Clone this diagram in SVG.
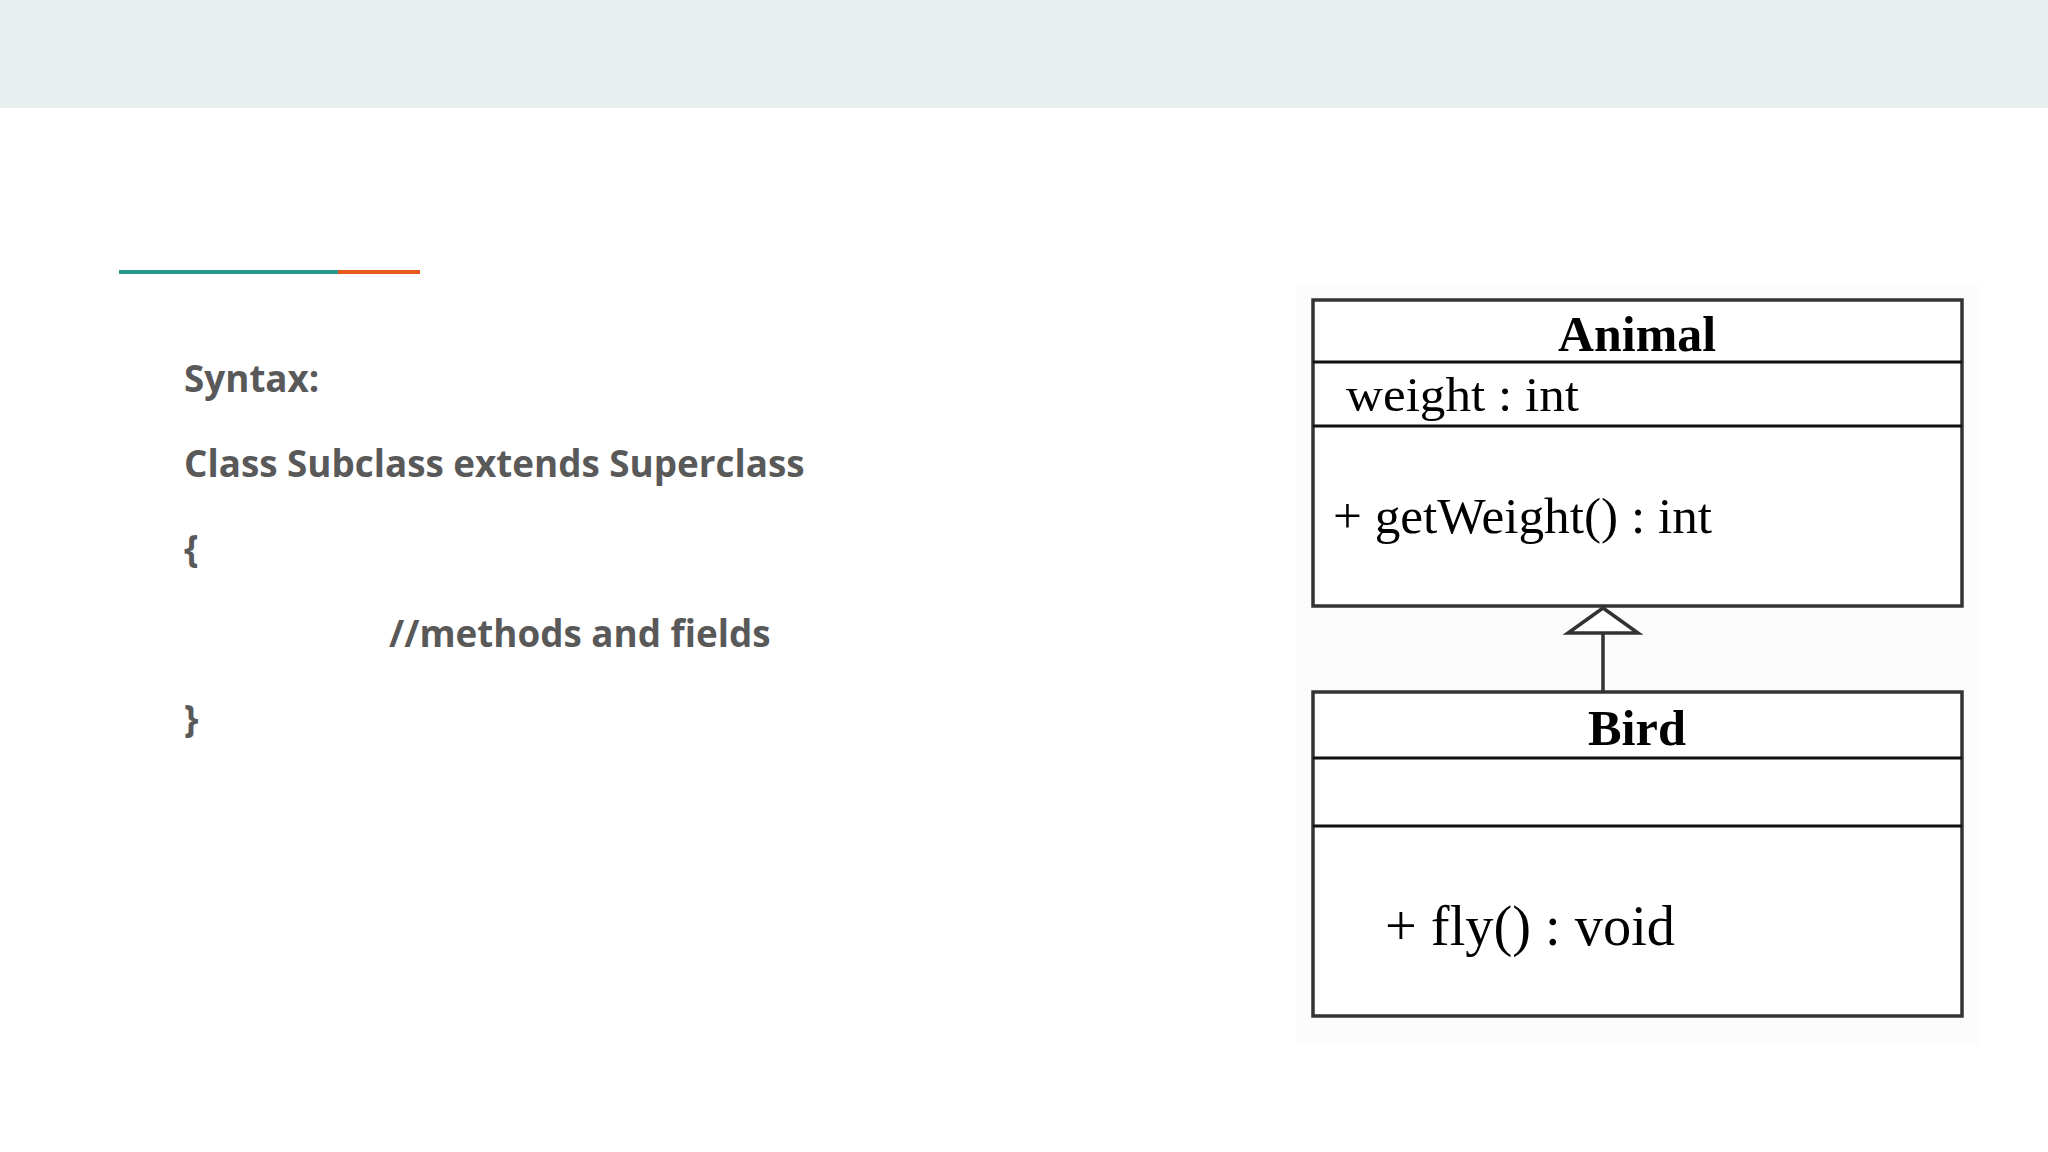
<svg xmlns="http://www.w3.org/2000/svg" width="2048" height="1152" viewBox="0 0 2048 1152">
<style>
.code{font-family:"Open Sans",sans-serif;font-weight:bold;font-size:36.8px;fill:#595959}
.uml{font-family:"Liberation Serif",serif;fill:#000}
.title{font-weight:bold}
.box{fill:#fff;stroke:#333;stroke-width:3.5}
.div{stroke:#111;stroke-width:3}
.conn{stroke:#333;stroke-width:3.5;fill:#fff}
</style>
<rect x="0" y="0" width="2048" height="1152" fill="#fff"/>
<rect x="0" y="0" width="2048" height="108" fill="#e9eeee"/>
<line x1="119" y1="272" x2="338" y2="272" stroke="#26998c" stroke-width="4"/>
<line x1="338" y1="272" x2="420" y2="272" stroke="#e8591a" stroke-width="4"/>
<g id="code">
<text class="code" x="184" y="392">Syntax:</text>
<text class="code" x="184" y="477">Class Subclass extends Superclass</text>
<text class="code" x="184" y="562">{</text>
<text class="code" x="389" y="647">//methods and fields</text>
<text class="code" x="184" y="732">}</text>
</g>
<rect x="1297" y="285" width="682" height="760" fill="#fcfcfc"/>
<g id="connectors">
<line class="conn" x1="1603" y1="633" x2="1603" y2="692"/>
<polygon class="conn" points="1603,608 1568,633 1638,633"/>
</g>
<g id="animal">
<rect class="box" x="1313" y="300" width="649" height="306"/>
<line class="div" x1="1313" y1="362" x2="1962" y2="362"/>
<line class="div" x1="1313" y1="426" x2="1962" y2="426"/>
<text class="uml title" x="1637" y="351" font-size="50" text-anchor="middle" textLength="158" lengthAdjust="spacingAndGlyphs">Animal</text>
<text class="uml" x="1346" y="411" font-size="49" textLength="233" lengthAdjust="spacingAndGlyphs">weight : int</text>
<text class="uml" x="1333" y="533" font-size="51" textLength="379" lengthAdjust="spacingAndGlyphs">+ getWeight() : int</text>
</g>
<g id="bird">
<rect class="box" x="1313" y="692" width="649" height="324"/>
<line class="div" x1="1313" y1="758" x2="1962" y2="758"/>
<line class="div" x1="1313" y1="826" x2="1962" y2="826"/>
<text class="uml title" x="1637" y="745" font-size="50" text-anchor="middle" textLength="98" lengthAdjust="spacingAndGlyphs">Bird</text>
<text class="uml" x="1385" y="945" font-size="56" textLength="290" lengthAdjust="spacingAndGlyphs">+ fly() : void</text>
</g>
</svg>
